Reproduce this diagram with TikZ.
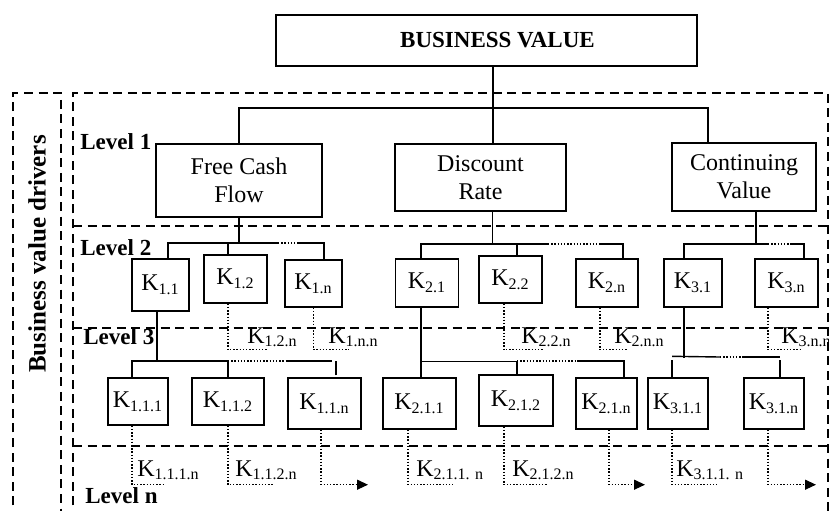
\documentclass[tikz,border=0pt]{standalone}
\usepackage{fontspec}
\setmainfont{Liberation Serif}
\usetikzlibrary{positioning,arrows.meta}

\begin{document}
\begin{tikzpicture}
[x=0.5pt, y=-0.5pt,
 box/.style 2 args={draw, line width=0.7pt, inner sep=0pt, align=center,
   minimum width={#1*0.5pt}, minimum height={#2*0.5pt},
   font=\fontsize{12}{13.8}\selectfont},
 lvl/.style={anchor=base west, inner sep=0pt, font=\fontsize{11.5}{13}\selectfont\bfseries},
 sub/.style={anchor=base west, inner sep=0pt, font=\fontsize{12}{13}\selectfont},
 frame/.style={line width=0.9pt, dash pattern=on 4.5pt off 2.8pt},
 link/.style={line width=0.7pt},
 dots/.style={line width=0.65pt, dash pattern=on 0.7pt off 0.9pt},
 more/.style={dots, -{Triangle[length=5.5pt,width=5pt]}}]

\useasboundingbox (0,0) rectangle (829,510);

% frames and levels
\draw[frame] (13,520) -- (13,93) -- (61,93) -- (61,520);
\draw[frame] (73,520) -- (73,93) -- (828,93) -- (828,520);
\draw[frame] (73,226) -- (828,226);
\draw[frame] (73,328) -- (828,328);
\draw[frame] (73,446) -- (828,446);

\node[rotate=90, font=\fontsize{12.5}{14}\selectfont\bfseries] (drivers) at (37,254) {Business value drivers};
\node[lvl] (lv1) at (80,149) {Level 1};
\node[lvl] (lv2) at (80,255) {Level 2};
\node[lvl] (lv3) at (83,344) {Level 3};
\node[lvl] (lvn) at (85,503) {Level n};

% boxes
\node[box={421}{51}, font=\fontsize{11.5}{13}\selectfont\bfseries] (bv) at (486.5,40.5) {\hspace*{11pt}BUSINESS VALUE};

\node[box={166}{73}] (fcf) at (239,180.5) {Free Cash\\Flow};
\node[box={171}{67}] (dr) at (480.5,177.5) {Discount\\Rate};
\node[box={144}{68}] (cv) at (744,177) {Continuing\\Value};

\node[box={57}{52}] (k11) at (160.5,285) {K\textsubscript{1.1}};
\node[box={63}{48}] (k12) at (235.5,279) {K\textsubscript{1.2}};
\node[box={57}{47}] (k1n) at (313.5,283.5) {K\textsubscript{1.n}};
\node[box={63}{48}] (k21) at (427,283) {K\textsubscript{2.1}};
\node[box={63}{47}] (k22) at (510.5,279.5) {K\textsubscript{2.2}};
\node[box={62}{48}] (k2n) at (607,283) {K\textsubscript{2.n}};
\node[box={58}{48}] (k31) at (693,283) {K\textsubscript{3.1}};
\node[box={63}{48}] (k3n) at (786.5,283) {K\textsubscript{3.n}};

\node[box={60}{47}] (k111) at (138,401.5) {K\textsubscript{1.1.1}};
\node[box={72}{47}] (k112) at (228,401.5) {K\textsubscript{1.1.2}};
\node[box={73}{51}] (k11n) at (324.5,403.5) {K\textsubscript{1.1.n}};
\node[box={73}{51}] (k211) at (419.5,403.5) {K\textsubscript{2.1.1}};
\node[box={74}{51}] (k212) at (516,400.5) {K\textsubscript{2.1.2}};
\node[box={61}{51}] (k21n) at (606.5,403.5) {K\textsubscript{2.1.n}};
\node[box={60}{51}] (k311) at (678,403.5) {K\textsubscript{3.1.1}};
\node[box={60}{51}] (k31n) at (774,403.5) {K\textsubscript{3.1.n}};

% level 1
\coordinate (top) at (493,108);
\draw[link] ([xshift=3.25pt]bv.south) -- ([xshift=6.25pt]dr.north);
\draw[link] (fcf.north) |- (top) -| ([xshift=-18pt]cv.north);

% level 2
\coordinate (g1a) at (278,243);
\coordinate (g1b) at (298,243);
\draw[link] (fcf.south) -- ++(0,26);
\draw[link] ([xshift=3.75pt]k11.north) |- (g1a);
\draw[link] ([xshift=-3.75pt]k12.north) -- ++(0,-12);
\draw[dots] (g1a) -- (g1b);
\draw[link] (g1b) -| ([xshift=5.25pt]k1n.north);

\coordinate (g2a) at (548,244);
\coordinate (g2b) at (600,244);
\draw[link] ([xshift=6pt]dr.south) -- ++(0,33);
\draw[link] ([xshift=-3pt]k21.north) |- (g2a);
\draw[link] ([xshift=3.25pt]k22.north) -- ++(0,-12);
\draw[dots] (g2a) -- (g2b);
\draw[link] (g2b) -| ([xshift=8pt]k2n.north);

\coordinate (g3a) at (768,244);
\coordinate (g3b) at (790,244);
\draw[link] ([xshift=6pt]cv.south) -- ++(0,33);
\draw[link] ([xshift=-4.5pt]k31.north) |- (g3a);
\draw[dots] (g3a) -- (g3b);
\draw[link] (g3b) -| ([xshift=8.75pt]k3n.north);

% level 3
\coordinate (g4a) at (228,361);
\coordinate (g4b) at (286,361);
\coordinate (g4c) at (332,361);
\draw[link] ([xshift=-1.75pt]k11.south) -- ++(0,50);
\draw[link] ([xshift=-3pt]k111.north) |- (g4a) -- (k112.north);
\draw[dots] (g4a) -- (g4b);
\draw[link] (g4b) -- (g4c);
\draw[link] ([xshift=5.75pt]k11n.north) ++(0,-2) -- ++(0,-14);

\coordinate (g5a) at (517,361);
\coordinate (g5b) at (577,361);
\draw[link] ([xshift=-3pt]k21.south) -- ([xshift=0.75pt]k211.north);
\draw[link] ([xshift=-3pt]k21.south) ++(0,54) -| ([xshift=0.5pt]k212.north);
\draw[dots] (g5a) -- (g5b);
\draw[link] (g5b) -| ([xshift=8.75pt]k21n.north);

\coordinate (g6a) at (720,357);
\coordinate (g6b) at (743,357);
\draw[link] ([xshift=-4.5pt]k31.south) -- ++(0,50);
\draw[link] ([xshift=-3pt]k311.north) ++(0,-21) -- (g6a);
\draw[link] ([xshift=-3pt]k311.north) -- ++(0,-17);
\draw[dots] (g6a) -- (g6b);
\draw[link] (g6b) -- ++(37,0);
\draw[link] ([xshift=3pt]k31n.north) -- ++(0,-17);

% further drivers
\draw[dots] ([xshift=-3.75pt]k12.south) |- ++(40,46);
\node[sub] (l12n) at (247,343) {K\textsubscript{1.2.n}};
\draw[dots] (k1n.south) |- ++(35,42);
\node[sub] (l1nn) at (328,343) {K\textsubscript{1.n.n}};
\draw[dots] ([xshift=-3.25pt]k22.south) |- ++(40,46);
\node[sub] (l22n) at (521,343) {K\textsubscript{2.2.n}};
\draw[dots] ([xshift=-3.5pt]k2n.south) |- ++(27,42);
\node[sub] (l2nn) at (614,343) {K\textsubscript{2.n.n}};
\draw[dots] ([xshift=-9.25pt]k3n.south) |- ++(32,42);
\node[sub] (l3nn) at (781,343) {K\textsubscript{3.n.n}};

\draw[dots] ([xshift=-3pt]k111.south) |- ++(33,59);
\node[sub] (l111n) at (137,476) {K\textsubscript{1.1.1.n}};
\draw[dots] (k112.south) |- ++(45,59);
\node[sub] (l112n) at (235,476) {K\textsubscript{1.1.2.n}};
\draw[more] ([xshift=-1.75pt]k11n.south) |- ++(47,55);
\draw[dots] ([xshift=-5.75pt]k211.south) |- ++(45,55);
\node[sub] (l211n) at (416,476) {K\textsubscript{2.1.1. n}};
\draw[dots] ([xshift=-6pt]k212.south) |- ++(44,58);
\node[sub] (l212n) at (512,476) {K\textsubscript{2.1.2.n}};
\draw[more] ([xshift=1.25pt]k21n.south) |- ++(36,55);
\draw[dots] ([xshift=-3pt]k311.south) |- ++(45,55);
\node[sub] (l311n) at (676,476) {K\textsubscript{3.1.1. n}};
\draw[more] ([xshift=-3pt]k31n.south) |- ++(48,55);

\end{tikzpicture}
\end{document}
